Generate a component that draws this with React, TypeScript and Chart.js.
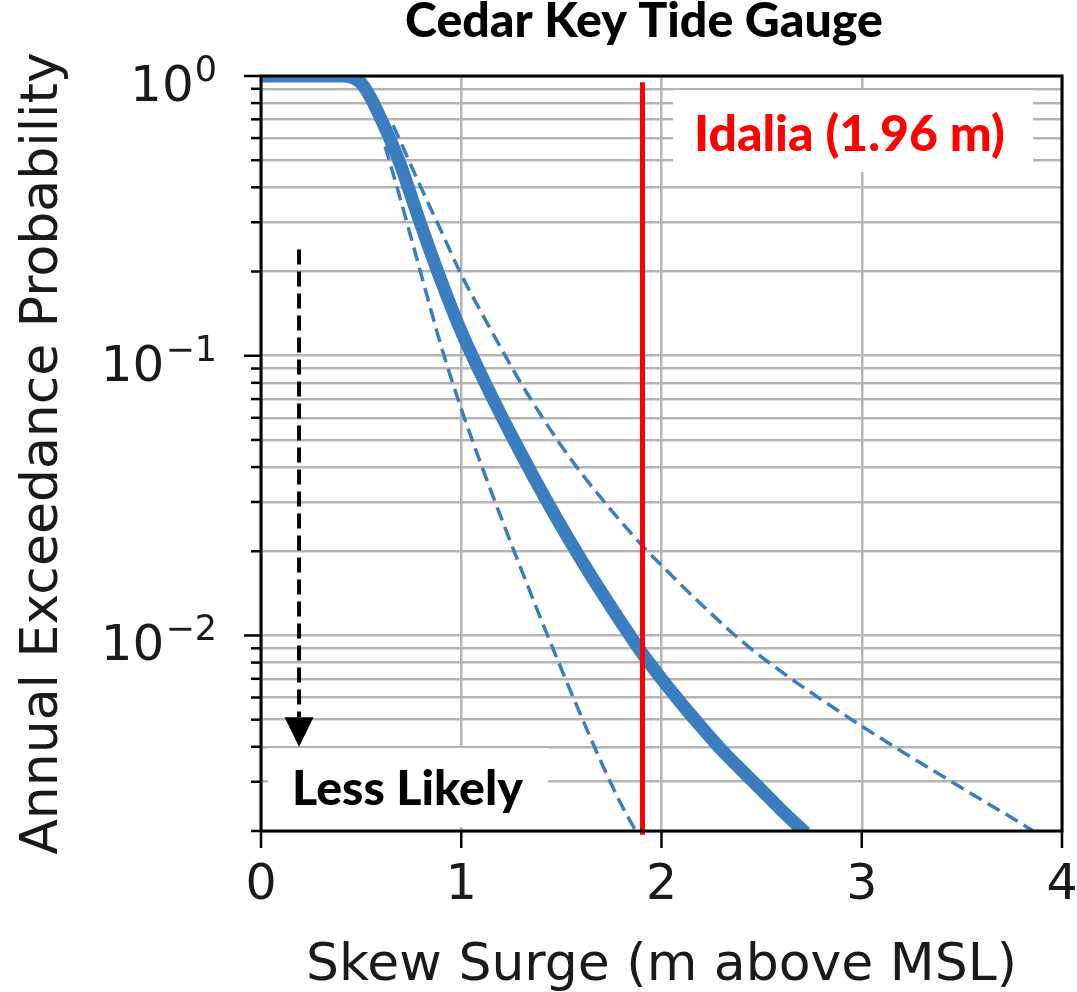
import React, { useEffect, useRef } from "react";
import { Chart, registerables } from "chart.js";

Chart.register(...registerables);

// ---------------- data ----------------
const mainSurge = [0, 0.2, 0.4, 0.45, 0.5, 0.55, 0.6, 0.65, 0.7, 0.75, 0.8, 0.9, 1.0, 1.1, 1.2, 1.3, 1.4, 1.5, 1.6, 1.7, 1.8, 1.9, 2.0, 2.1, 2.2, 2.3, 2.4, 2.5, 2.6, 2.7, 2.72];
const mainAep = [1, 1, 1, 0.99, 0.944, 0.83, 0.7, 0.582, 0.474, 0.372, 0.292, 0.185, 0.122, 0.0853, 0.0611, 0.0445, 0.0328, 0.0245, 0.0186, 0.0143, 0.0111, 0.0087, 0.007, 0.0057, 0.0047, 0.0039, 0.0033, 0.0028, 0.00237, 0.00203, 0.00197];

const upperSurge = [0.66, 0.7, 0.8, 0.9, 1.0, 1.1, 1.2, 1.3, 1.4, 1.5, 1.6, 1.7, 1.8, 1.9, 2.0, 2.2, 2.4, 2.6, 2.8, 3.0, 3.2, 3.4, 3.6, 3.8, 3.86];
const upperAep = [0.667, 0.575, 0.398, 0.279, 0.195, 0.143, 0.106, 0.0794, 0.061, 0.0476, 0.038, 0.0309, 0.0254, 0.0211, 0.0178, 0.0129, 0.00955, 0.00741, 0.00589, 0.00474, 0.00385, 0.00315, 0.00258, 0.00212, 0.00199];

const lowerSurge = [0.62, 0.7, 0.8, 0.9, 1.0, 1.1, 1.2, 1.3, 1.4, 1.5, 1.6, 1.7, 1.8, 1.875];
const lowerAep = [0.56, 0.355, 0.195, 0.108, 0.0646, 0.0407, 0.0263, 0.0172, 0.01135, 0.00759, 0.00513, 0.00351, 0.00248, 0.00198];

const idaliaSurge = [1.905, 1.905];
const idaliaAep = [0.95, 0.00194];

const xTickValues = [0, 1, 2, 3, 4];
const yMajorTicks = [1, 0.1, 0.01];
const yMajorExponents = ["0", "\u22121", "\u22122"];
const yMin = 0.002;
const yMax = 1;

const arrowSurge = 0.19;
const arrowAepStart = 0.24;
const arrowAepHeadBase = 0.0051;
const arrowAepTip = 0.004;

const titleText = "Cedar Key Tide Gauge";
const xTitle = "Skew Surge (m above MSL)";
const yTitle = "Annual Exceedance Probability";
const idaliaLabel = "Idalia (1.96 m)";
const lessLikelyLabel = "Less Likely";

// ---------------- helpers ----------------
const BLUE = "#3a7ebf";
const TEXT = "#1a1a1a";

function buildYTicks(): number[] {
  const out: number[] = [];
  for (let e = -3; e <= 0; e++) {
    for (let m = 1; m <= 9; m++) {
      const v = parseFloat((m * Math.pow(10, e)).toPrecision(6));
      if (v >= yMin - 1e-12 && v <= yMax + 1e-12) out.push(v);
    }
  }
  return out;
}
const yTickValues = buildYTicks();

function pts(xs: number[], ys: number[]) {
  return xs.map((x, i) => ({ x, y: ys[i] }));
}

function drawFitted(ctx: CanvasRenderingContext2D, text: string, family: string, weight: string, targetW: number, x: number, y: number, align: CanvasTextAlign, color: string) {
  ctx.font = `${weight} 100px ${family}`;
  const w = ctx.measureText(text).width;
  const size = (100 * targetW) / w;
  ctx.font = `${weight} ${size}px ${family}`;
  ctx.textAlign = align;
  ctx.textBaseline = "alphabetic";
  ctx.fillStyle = color;
  ctx.fillText(text, x, y);
}

const overlayPlugin = {
  id: "overlayPlugin",
  beforeDatasetsDraw(chart: any) {
    const ctx: CanvasRenderingContext2D = chart.ctx;
    ctx.save();
    ctx.fillStyle = "#ffffff";
    ctx.fillRect(673, 90, 360, 82);
    ctx.fillRect(268, 748, 280, 79);
    ctx.restore();
  },
  afterDatasetsDraw(chart: any) {
    const ctx: CanvasRenderingContext2D = chart.ctx;
    const { left, right, top, bottom } = chart.chartArea;
    const xs = chart.scales.x;
    const ys = chart.scales.y;
    ctx.save();

    // arrow
    const ax = xs.getPixelForValue(arrowSurge);
    const ay0 = ys.getPixelForValue(arrowAepStart);
    const ay1 = ys.getPixelForValue(arrowAepHeadBase);
    const ay2 = ys.getPixelForValue(arrowAepTip);
    ctx.strokeStyle = "#000";
    ctx.lineWidth = 4;
    ctx.setLineDash([15, 7]);
    ctx.beginPath();
    ctx.moveTo(ax, ay0);
    ctx.lineTo(ax, ay1);
    ctx.stroke();
    ctx.setLineDash([]);
    ctx.fillStyle = "#000";
    ctx.beginPath();
    ctx.moveTo(ax - 14.5, ay1);
    ctx.lineTo(ax + 14.5, ay1);
    ctx.lineTo(ax, ay2);
    ctx.closePath();
    ctx.fill();

    // spines
    ctx.strokeStyle = "#000";
    ctx.lineWidth = 3;
    ctx.strokeRect(left, top, right - left, bottom - top);

    // ticks
    ctx.lineWidth = 2.5;
    for (const v of xTickValues) {
      const px = xs.getPixelForValue(v);
      ctx.beginPath();
      ctx.moveTo(px, bottom);
      ctx.lineTo(px, bottom + 17);
      ctx.stroke();
    }
    for (const v of yTickValues) {
      const py = ys.getPixelForValue(v);
      const major = yMajorTicks.some((m) => Math.abs(m - v) < 1e-12);
      const len = major ? 17 : 10;
      ctx.beginPath();
      ctx.moveTo(left - len, py);
      ctx.lineTo(left, py);
      ctx.stroke();
    }

    // y tick labels (10^n)
    const labelRight = 217;
    yMajorTicks.forEach((v, i) => {
      const py = ys.getPixelForValue(v);
      ctx.fillStyle = TEXT;
      ctx.textBaseline = "alphabetic";
      ctx.font = "35px 'DejaVu Sans'";
      const ew = ctx.measureText(yMajorExponents[i]).width;
      ctx.textAlign = "left";
      ctx.fillText(yMajorExponents[i], labelRight - ew, py + 5);
      ctx.font = "50px 'DejaVu Sans'";
      ctx.textAlign = "right";
      ctx.fillText("10", labelRight - ew - 1, py + 25);
    });

    // annotation texts
    drawFitted(ctx, idaliaLabel, "Lato", "900", 311, 694, 151, "left", "#ff0000");
    drawFitted(ctx, lessLikelyLabel, "Lato", "900", 231, 292, 805, "left", "#000000");
    drawFitted(ctx, titleText, "Lato", "900", 478, 644, 37, "center", "#000000");

    ctx.restore();
  },
};

export default function App() {
  const canvasRef = useRef<HTMLCanvasElement | null>(null);

  useEffect(() => {
    document.body.style.margin = "0";
    const canvas = canvasRef.current;
    if (!canvas) return;
    const chart = new Chart(canvas, {
      type: "line",
      data: {
        datasets: [
          {
            label: "Idalia",
            data: pts(idaliaSurge, idaliaAep),
            borderColor: "#ff0000",
            borderWidth: 5,
            pointRadius: 0,
            clip: false as any,
            order: 0,
          },
          {
            label: "Central",
            data: pts(mainSurge, mainAep),
            borderColor: BLUE,
            borderWidth: 13,
            pointRadius: 0,
            cubicInterpolationMode: "monotone",
            borderJoinStyle: "round",
            order: 1,
          },
          {
            label: "Upper",
            data: pts(upperSurge, upperAep),
            borderColor: BLUE,
            borderWidth: 3.5,
            borderDash: [14, 7],
            pointRadius: 0,
            cubicInterpolationMode: "monotone",
            order: 2,
          },
          {
            label: "Lower",
            data: pts(lowerSurge, lowerAep),
            borderColor: BLUE,
            borderWidth: 3.5,
            borderDash: [14, 7],
            pointRadius: 0,
            cubicInterpolationMode: "monotone",
            order: 3,
          },
        ],
      },
      options: {
        animation: false,
        responsive: false,
        devicePixelRatio: 1,
        layout: { padding: { top: 76, right: 15, left: 0, bottom: 0 } },
        plugins: {
          legend: { display: false },
          tooltip: { enabled: false },
          title: { display: false },
        },
        scales: {
          x: {
            type: "linear",
            min: 0,
            max: 4,
            afterBuildTicks: (scale: any) => {
              scale.ticks = xTickValues.map((v) => ({ value: v }));
            },
            afterFit: (scale: any) => {
              scale.height = 161;
              scale.paddingLeft = 0;
              scale.paddingRight = 0;
            },
            ticks: {
              font: { family: "'DejaVu Sans'", size: 49, lineHeight: 1 },
              color: TEXT,
              padding: 31,
              maxRotation: 0,
              autoSkip: false,
              callback: (v: any) => String(v),
            },
            grid: { color: "#b5b5b5", lineWidth: 2.5, drawTicks: false },
            border: { display: false },
            title: {
              display: true,
              text: xTitle,
              color: TEXT,
              font: { family: "'DejaVu Sans'", size: 52, lineHeight: 1 },
              padding: { top: 0, bottom: 0 },
            },
          },
          y: {
            type: "logarithmic",
            min: yMin,
            max: yMax,
            afterBuildTicks: (scale: any) => {
              scale.ticks = yTickValues.map((v) => ({ value: v }));
            },
            afterFit: (scale: any) => {
              scale.width = 261;
              scale.paddingTop = 0;
              scale.paddingBottom = 0;
            },
            ticks: {
              autoSkip: false,
              callback: () => "",
            },
            grid: { color: "#b5b5b5", lineWidth: 2.5, drawTicks: false },
            border: { display: false },
            title: {
              display: true,
              text: yTitle,
              color: TEXT,
              font: { family: "'DejaVu Sans'", size: 52, lineHeight: 1 },
              padding: { top: 17, bottom: 0 },
            },
          },
        },
      } as any,
      plugins: [overlayPlugin],
    });
    return () => chart.destroy();
  }, []);

  return (
    <div style={{ width: 1077, height: 992 }}>
      <canvas ref={canvasRef} width={1077} height={992} style={{ display: "block", width: 1077, height: 992 }} />
    </div>
  );
}
